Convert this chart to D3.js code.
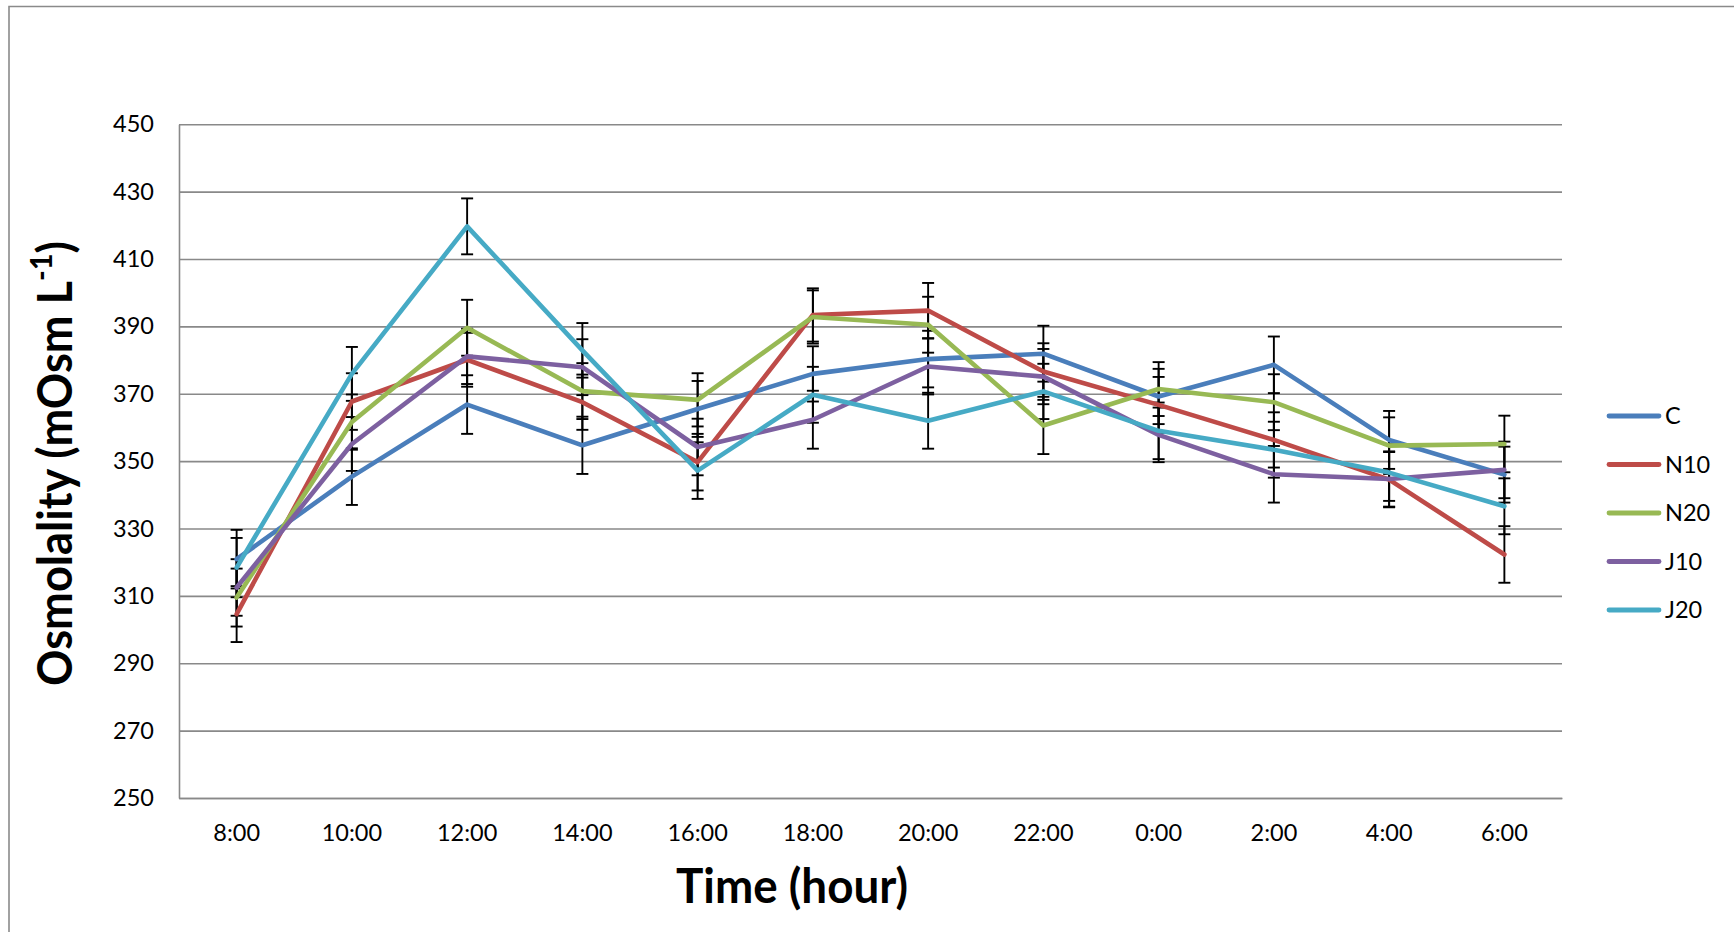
<!DOCTYPE html>
<html>
<head>
<meta charset="utf-8">
<script src="https://cdn.jsdelivr.net/npm/d3@7"></script>
<style>
  html, body { margin: 0; padding: 0; background: #ffffff; }
  svg { display: block; }
</style>
</head>
<body>
<svg id="chart" width="1734" height="932"></svg>
<script>
const times = ["8:00","10:00","12:00","14:00","16:00","18:00","20:00","22:00","0:00","2:00","4:00","6:00"];
const seriesNames = ["C","N10","N20","J10","J20"];
const seriesColors = ["#4A7EBB","#BE4B48","#98B954","#7D60A0","#46AAC5"];

const valuesC   = [320.9, 345.4, 366.8, 354.7, 365.5, 375.9, 380.3, 381.9, 369.2, 378.6, 356.3, 346.0];
const valuesN10 = [304.6, 367.7, 380.1, 367.5, 349.7, 393.4, 394.7, 376.6, 366.7, 356.3, 344.5, 322.3];
const valuesN20 = [309.5, 361.6, 389.6, 370.8, 368.2, 392.8, 390.5, 360.6, 371.4, 367.5, 354.6, 355.1];
const valuesJ10 = [312.5, 355.1, 381.1, 377.9, 354.2, 362.3, 378.1, 375.1, 357.8, 346.1, 344.7, 347.4];
const valuesJ20 = [318.4, 375.9, 419.7, 382.9, 347.2, 369.7, 362.0, 370.7, 359.0, 353.4, 346.6, 336.6];

const errC   = [8.7, 8.4, 8.7, 8.5, 8.3, 8.2, 8.4, 8.3, 8.2, 8.4, 8.6, 8.3];
const errN10 = [8.3, 8.4, 8.0, 8.2, 8.4, 7.9, 8.2, 8.4, 8.3, 8.2, 8.2, 8.4];
const errN20 = [8.6, 8.2, 8.3, 8.3, 7.9, 7.9, 8.3, 8.5, 8.0, 8.3, 8.4, 8.4];
const errJ10 = [8.4, 8.0, 8.2, 8.3, 8.4, 8.6, 8.3, 8.2, 8.1, 8.4, 8.2, 8.4];
const errJ20 = [8.8, 8.0, 8.3, 8.1, 8.4, 8.3, 8.3, 8.2, 8.4, 8.3, 8.4, 8.3];

const yTicks = [250, 270, 290, 310, 330, 350, 370, 390, 410, 430, 450];
const xTitle = "Time (hour)";
const yTitleMain = "Osmolality (mOsm L";
const yTitleSup = "-1";
const yTitleEnd = ")";

const allValues = [valuesC, valuesN10, valuesN20, valuesJ10, valuesJ20];
const allErrors = [errC, errN10, errN20, errJ10, errJ20];

const svg = d3.select("#chart");
const pLeft = 179, pRight = 1562, pTop = 124.3, pBottom = 798;
const font = "Lato, 'Liberation Sans', sans-serif";
const gridColor = "#898989";

// Outer chart frame
svg.append("path")
  .attr("d", "M9,940 L9,6.5 L1740,6.5")
  .attr("fill", "none").attr("stroke", "#8a8a8a").attr("stroke-width", 1.6);

const x = d3.scaleBand().domain(times).range([pLeft, pRight]).padding(0);
const xc = d => x(d) + x.bandwidth() / 2;
const y = d3.scaleLinear().domain([250, 450]).range([pBottom, pTop]);

// Y axis with gridlines
const yAxis = svg.append("g").attr("transform", `translate(${pLeft},0)`)
  .call(d3.axisLeft(y).tickValues(yTicks).tickSizeInner(-(pRight - pLeft)).tickSizeOuter(0).tickPadding(25));
yAxis.select(".domain").attr("stroke", gridColor).attr("stroke-width", 1.6);
yAxis.selectAll(".tick line").attr("stroke", gridColor).attr("stroke-width", 1.6);
yAxis.selectAll(".tick text").attr("font-family", font).attr("font-size", 23.5).attr("fill", "#000");

// X axis
const xAxis = svg.append("g").attr("transform", `translate(0,${pBottom})`)
  .call(d3.axisBottom(x).tickSize(0).tickPadding(0));
xAxis.select(".domain").attr("stroke", gridColor).attr("stroke-width", 1.6);
xAxis.selectAll(".tick text").attr("font-family", font).attr("font-size", 23.5).attr("fill", "#000")
  .attr("y", 35).attr("dy", "0.35em");

// Error bars
const capW = 6;
allValues.forEach((vals, si) => {
  const errs = allErrors[si];
  const g = svg.append("g").attr("stroke", "#000").attr("stroke-width", 1.9);
  times.forEach((t, i) => {
    const cx = xc(t), y1 = y(vals[i] + errs[i]), y2 = y(vals[i] - errs[i]);
    g.append("line").attr("x1", cx).attr("x2", cx).attr("y1", y1).attr("y2", y2);
    g.append("line").attr("x1", cx - capW).attr("x2", cx + capW).attr("y1", y1).attr("y2", y1);
    g.append("line").attr("x1", cx - capW).attr("x2", cx + capW).attr("y1", y2).attr("y2", y2);
  });
});

// Lines
const line = d3.line().x((d, i) => xc(times[i])).y(d => y(d));
allValues.forEach((vals, si) => {
  svg.append("path").datum(vals)
    .attr("d", line)
    .attr("fill", "none")
    .attr("stroke", seriesColors[si])
    .attr("stroke-width", 4.6)
    .attr("stroke-linejoin", "round")
    .attr("stroke-linecap", "round");
});

// Legend
const legY = d3.scaleLinear().domain([0, seriesNames.length - 1]).range([416, 610]);
seriesNames.forEach((name, i) => {
  const ly = legY(i);
  svg.append("line").attr("x1", 1609).attr("x2", 1659).attr("y1", ly).attr("y2", ly)
    .attr("stroke", seriesColors[i]).attr("stroke-width", 4.8).attr("stroke-linecap", "round");
  svg.append("text").attr("x", 1665).attr("y", ly).attr("dy", "0.35em")
    .attr("font-family", font).attr("font-size", 23.5).attr("fill", "#000").text(name);
});

// Axis titles (bold, horizontally fitted to reference widths)
const xt = svg.append("g").attr("transform", "translate(792,885)");
const xtText = xt.append("text").attr("text-anchor", "middle").attr("dominant-baseline", "central")
  .attr("font-family", font).attr("font-weight", "bold").attr("font-size", 47).attr("fill", "#000")
  .text(xTitle);
const xtw = xtText.node().getComputedTextLength();
xtText.attr("transform", `scale(${232 / xtw},1)`);

const yt = svg.append("g").attr("transform", "translate(54,463.5) rotate(-90)");
const ytText = yt.append("text").attr("text-anchor", "middle").attr("dominant-baseline", "central")
  .attr("font-family", font).attr("font-weight", "bold").attr("font-size", 47).attr("fill", "#000");
ytText.append("tspan").text(yTitleMain);
ytText.append("tspan").attr("font-size", 30).attr("dy", -14).text(yTitleSup);
ytText.append("tspan").attr("dy", 14).text(yTitleEnd);
const ytw = ytText.node().getBBox().width;
ytText.attr("transform", `scale(${445 / ytw},1)`);
</script>
</body>
</html>
